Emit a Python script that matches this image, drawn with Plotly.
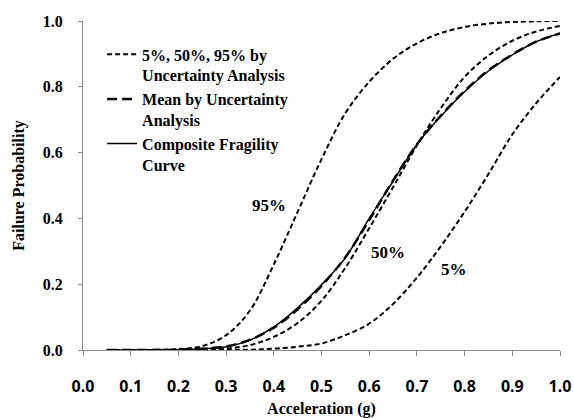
import plotly.graph_objects as go

accel = [0.05, 0.10, 0.15, 0.20, 0.25, 0.30, 0.35, 0.40, 0.45, 0.50,
         0.55, 0.60, 0.65, 0.70, 0.75, 0.80, 0.85, 0.90, 0.95, 1.00]

p95 = [0.0, 0.0, 0.0005, 0.003, 0.012, 0.045, 0.12, 0.26, 0.42, 0.58,
       0.72, 0.815, 0.885, 0.932, 0.963, 0.982, 0.992, 0.997, 0.999, 1.0]
p50 = [0.0, 0.0, 0.0, 0.0003, 0.001, 0.004, 0.015, 0.04, 0.082, 0.15,
       0.25, 0.37, 0.495, 0.622, 0.735, 0.83, 0.895, 0.94, 0.968, 0.985]
p05 = [0.0, 0.0, 0.0, 0.0, 0.0, 0.0, 0.001, 0.004, 0.01, 0.02,
       0.045, 0.08, 0.14, 0.22, 0.315, 0.42, 0.535, 0.655, 0.75, 0.83]
mean = [0.0, 0.0, 0.0, 0.001, 0.004, 0.011, 0.031, 0.068, 0.124, 0.195,
        0.282, 0.395, 0.515, 0.625, 0.712, 0.787, 0.85, 0.898, 0.937, 0.962]
composite = [0.0, 0.0, 0.0, 0.001, 0.004, 0.01, 0.03, 0.07, 0.128, 0.198,
             0.28, 0.40, 0.513, 0.625, 0.71, 0.785, 0.848, 0.897, 0.937, 0.963]

x_ticks = [0.0, 0.1, 0.2, 0.3, 0.4, 0.5, 0.6, 0.7, 0.8, 0.9, 1.0]
y_ticks = [0.0, 0.2, 0.4, 0.6, 0.8, 1.0]

labels = ["95%", "50%", "5%"]
label_x = [0.39, 0.639, 0.778]
label_y = [0.44, 0.295, 0.246]

SERIF = "Liberation Serif, Times New Roman, serif"

fig = go.Figure()
dash_line = dict(color="black", width=2, dash="5px,3px")
fig.add_trace(go.Scatter(x=accel, y=p95, mode="lines", line=dash_line, line_shape="spline",
                         name="<b>5%, 50%, 95% by<br>Uncertainty Analysis</b>", legendgroup="unc"))
fig.add_trace(go.Scatter(x=accel, y=p50, mode="lines", line=dash_line, line_shape="spline",
                         name="50%", legendgroup="unc", showlegend=False))
fig.add_trace(go.Scatter(x=accel, y=p05, mode="lines", line=dash_line, line_shape="spline",
                         name="5%", legendgroup="unc", showlegend=False))
fig.add_trace(go.Scatter(x=accel, y=mean, mode="lines", line_shape="spline",
                         line=dict(color="black", width=2.5, dash="10px,5px"),
                         name="<b>Mean by Uncertainty<br>Analysis</b>"))
fig.add_trace(go.Scatter(x=accel, y=composite, mode="lines", line_shape="spline",
                         line=dict(color="black", width=1.5),
                         name="<b>Composite Fragility<br>Curve</b>"))

for t, lx, ly in zip(labels, label_x, label_y):
    fig.add_annotation(x=lx, y=ly, text="<b>%s</b>" % t, showarrow=False,
                       font=dict(family=SERIF, size=17, color="black"))

fig.update_layout(
    width=573, height=418,
    margin=dict(l=83, r=13, t=21, b=68),
    paper_bgcolor="white", plot_bgcolor="white",
    showlegend=True,
    legend=dict(x=0.04, y=0.95, xanchor="left", yanchor="top", valign="top",
                bgcolor="rgba(0,0,0,0)", tracegroupgap=0,
                font=dict(family=SERIF, size=16, color="black")),
    xaxis=dict(range=[0, 1.0], tickvals=x_ticks, automargin=False,
               ticktext=["<b>%.1f</b>" % v for v in x_ticks],
               showgrid=False, zeroline=False, showline=True,
               linecolor="#8c8c8c", linewidth=1, ticks="outside", ticklen=5,
               tickcolor="#8c8c8c", ticklabelstandoff=17,
               tickfont=dict(family="Noto Sans, sans-serif", size=16, color="black"),
               title=dict(text="<b>Acceleration (g)</b>", standoff=10,
                          font=dict(family=SERIF, size=16, color="black"))),
    yaxis=dict(range=[0, 1.0], tickvals=y_ticks, automargin=False,
               ticktext=["<b>%.1f</b>" % v for v in y_ticks],
               showgrid=False, zeroline=False, showline=True,
               linecolor="#8c8c8c", linewidth=1, ticks="outside", ticklen=4,
               tickcolor="#8c8c8c", ticklabelstandoff=12,
               tickfont=dict(family=SERIF, size=16, color="black"),
               title=dict(text="<b>Failure Probability</b>", standoff=14,
                          font=dict(family=SERIF, size=16, color="black"))),
)

fig.write_html("out.html")
